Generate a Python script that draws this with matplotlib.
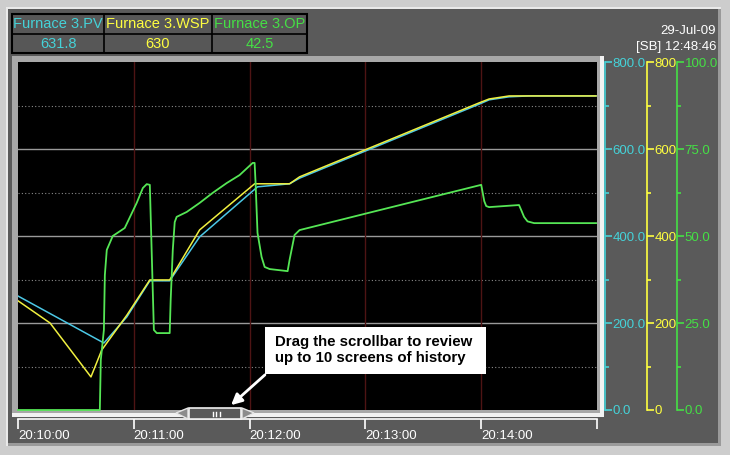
import matplotlib
matplotlib.use('Agg')
import matplotlib.pyplot as plt
from matplotlib.patches import Rectangle, Polygon
from matplotlib.lines import Line2D
from matplotlib.ticker import FuncFormatter, MultipleLocator

plt.rcParams['font.family'] = ['Liberation Sans', 'DejaVu Sans']

W, H = 730, 455

# time in seconds after 20:10:00
pv_t = [0, 44.5, 56.4, 68.3, 78.6, 94.1, 124.1, 140.7, 145.9, 238.9, 244.1, 254.5, 264.8, 299.5]
pv_v = [262, 154, 214, 297, 297, 398, 513, 520, 533, 703, 713, 720, 722, 722]

wsp_t = [0, 16.6, 37.8, 43.4, 56.4, 68.3, 78.6, 94.1, 122.6, 140.7, 145.9, 238.9, 244.1, 254.5, 264.8, 299.5]
wsp_v = [251, 200, 76, 138, 218, 299, 299, 414, 520, 520, 536, 706, 715, 722, 722, 722]

op_t = [0, 42.4, 42.9, 44.5, 45.0, 46.0, 49.1, 55.3, 59.0, 61.5, 64.7, 66.7, 68.3,
        70.4, 71.9, 78.6, 79.1, 80.2, 81.2, 82.2, 87.4, 94.1, 100.9, 108.1, 114.8,
        121.6, 122.6, 123.1, 124.1, 126.2, 127.8, 130.4, 139.7, 140.7, 143.3, 145.9,
        190.0, 240.0, 241.6, 242.6, 244.1, 259.6, 260.7, 262.2, 264.0, 267.4, 299.5]
op_v = [0, 0, 14.4, 23.0, 38.8, 46.0, 50.0, 52.3, 56.6, 59.5, 63.8, 64.9, 64.7,
        23.0, 22.1, 22.1, 31.6, 46.0, 54.0, 55.5, 56.9, 59.5, 62.4, 65.2, 67.5,
        71.0, 71.0, 65.2, 50.9, 44.0, 41.1, 40.5, 39.9, 43.1, 50.3, 51.7,
        57.8, 64.7, 60.0, 58.6, 58.3, 58.9, 57.5, 55.5, 54.2, 53.7, 53.7]

time_ticks = [0, 60, 120, 180, 240, 300]
time_labels = ['20:10:00', '20:11:00', '20:12:00', '20:13:00', '20:14:00', '']

legend_names = ['Furnace 3.PV', 'Furnace 3.WSP', 'Furnace 3.OP']
legend_values = ['631.8', '630', '42.5']

CYAN = '#45d2d8'
YELLOW = '#ffff40'
GREEN = '#45e045'
PANEL = '#5a5a5a'


def fx(x):
    return x / W


def fy(y):
    return 1 - y / H


def prect(x0, y0, x1, y1, **kw):
    r = Rectangle((fx(x0), fy(y1)), (x1 - x0) / W, (y1 - y0) / H,
                  transform=fig.transFigure, **kw)
    fig.add_artist(r)
    return r


def pline(xs, ys, **kw):
    ln = Line2D([fx(x) for x in xs], [fy(y) for y in ys], transform=fig.transFigure, **kw)
    fig.add_artist(ln)


fig = plt.figure(figsize=(W / 100, H / 100), dpi=100)
fig.patch.set_facecolor('#cdcdcd')

# outer panel with bevel
prect(6, 7, 721, 446, facecolor='#e9e9e9', edgecolor='none', zorder=-20)
prect(8, 9, 721, 446, facecolor='#9a9a9a', edgecolor='none', zorder=-19)
prect(8, 9, 718, 443, facecolor=PANEL, edgecolor='none', zorder=-18)

# plot frame bevel
prect(12, 56, 604, 417, facecolor='#f2f2f2', edgecolor='none', zorder=-10)
prect(12, 56, 600, 413, facecolor='#a8a8a8', edgecolor='none', zorder=-9)

ax = fig.add_axes((fx(18), fy(410), 579 / W, 348 / H))
ax.set_facecolor('black')
ax.set_xlim(0, 300)
ax.set_ylim(0, 800)
for s in ['top', 'left', 'right']:
    ax.spines[s].set_visible(False)
ax.spines['bottom'].set_position(('outward', 9 * 0.72))
ax.spines['bottom'].set_color('white')
ax.spines['bottom'].set_linewidth(1.2)
ax.set_yticks([])
ax.set_xticks(time_ticks)
ax.set_xticklabels(time_labels)
for lab in ax.get_xticklabels():
    lab.set_horizontalalignment('left')
ax.tick_params(axis='x', colors='white', length=7 * 0.72 / 0.72, width=1.2,
               direction='out', pad=1, labelsize=9.5)

for v in [200, 400, 600]:
    ax.axhline(v, color='#9a9a9a', lw=1, zorder=1)
for v in [100, 300, 500, 700]:
    ax.axhline(v, color='#8a8a8a', lw=0.8, ls=(0, (1, 2)), zorder=1)
for t in time_ticks[1:-1]:
    ax.axvline(t, color='#4e1414', lw=1, zorder=1)


def right_axis(offset_px, color, top, fmt):
    tw = ax.twinx()
    tw.set_ylim(0, top)
    tw.patch.set_visible(False)
    for s in ['top', 'left', 'bottom']:
        tw.spines[s].set_visible(False)
    tw.spines['right'].set_position(('outward', offset_px * 0.72))
    tw.spines['right'].set_color(color)
    tw.spines['right'].set_linewidth(1.2)
    tw.yaxis.set_major_locator(MultipleLocator(top / 4))
    tw.yaxis.set_minor_locator(MultipleLocator(top / 8))
    tw.yaxis.set_major_formatter(FuncFormatter(lambda v, p: fmt % v))
    tw.tick_params(axis='y', which='major', colors=color, length=5 / 0.72 * 0.72,
                   width=1.2, pad=0.5, labelsize=9.5)
    tw.tick_params(axis='y', which='minor', colors=color, length=3, width=1.2)
    return tw


ax_pv = right_axis(8, CYAN, 800, '%.1f')
ax_wsp = right_axis(50, YELLOW, 800, '%.0f')
ax_op = right_axis(80, GREEN, 100, '%.1f')

ax_pv.plot(pv_t, pv_v, color='#4cc8e6', lw=1.1)
ax_wsp.plot(wsp_t, wsp_v, color='#f0f040', lw=1.1)
ax_op.plot(op_t, op_v, color='#55e655', lw=1.3, clip_on=False)

# legend table
xs = [12, 104, 212, 307]
ys = [14, 34, 53]
prect(12, 14, 307, 53, facecolor='#575757', edgecolor='black', lw=1.5, zorder=5)
for x in xs[1:-1]:
    pline([x, x], [14, 53], color='black', lw=1.2, zorder=6)
pline([12, 307], [34, 34], color='black', lw=1.2, zorder=6)
for i, (nm, val, col) in enumerate(zip(legend_names, legend_values, [CYAN, YELLOW, GREEN])):
    cx = (xs[i] + xs[i + 1]) / 2
    fig.text(fx(cx), fy(24.5), nm, color=col, fontsize=10.5, ha='center', va='center', zorder=7)
    fig.text(fx(cx), fy(44), val, color=col, fontsize=10.5, ha='center', va='center', zorder=7)

fig.text(fx(716), fy(31), '29-Jul-09', color='white', fontsize=9.5, ha='right', va='center')
fig.text(fx(716), fy(47), '[SB] 12:48:46', color='white', fontsize=9.5, ha='right', va='center')

# scrollbar
fig.add_artist(Polygon([(fx(176), fy(413)), (fx(188), fy(408)), (fx(188), fy(419))],
                       closed=True, transform=fig.transFigure, facecolor='#8c8c8c',
                       edgecolor='#e6e6e6', lw=1, zorder=8))
fig.add_artist(Polygon([(fx(254), fy(413)), (fx(242), fy(408)), (fx(242), fy(419))],
                       closed=True, transform=fig.transFigure, facecolor='#8c8c8c',
                       edgecolor='#e6e6e6', lw=1, zorder=8))
prect(189, 408, 241, 419, facecolor=PANEL, edgecolor='#f0f0f0', lw=1.2, zorder=8)
for x in [212.5, 216, 219.5]:
    pline([x, x], [411.5, 415.5], color='white', lw=1, zorder=9)

# note box with arrow
prect(265, 327, 486, 374, facecolor='white', edgecolor='none', zorder=8)
fig.text(fx(275), fy(346), 'Drag the scrollbar to review', fontsize=10.8,
         fontweight='bold', color='black', ha='left', va='baseline', zorder=9)
fig.text(fx(275), fy(362), 'up to 10 screens of history', fontsize=10.8,
         fontweight='bold', color='black', ha='left', va='baseline', zorder=9)
ax.annotate('', xy=(229, H - 407), xytext=(267, H - 373), xycoords='figure pixels',
            textcoords='figure pixels',
            arrowprops=dict(arrowstyle='-|>', color='white', lw=2, mutation_scale=16),
            annotation_clip=False, zorder=9)

fig.savefig('out.png', dpi=100, facecolor=fig.get_facecolor())
